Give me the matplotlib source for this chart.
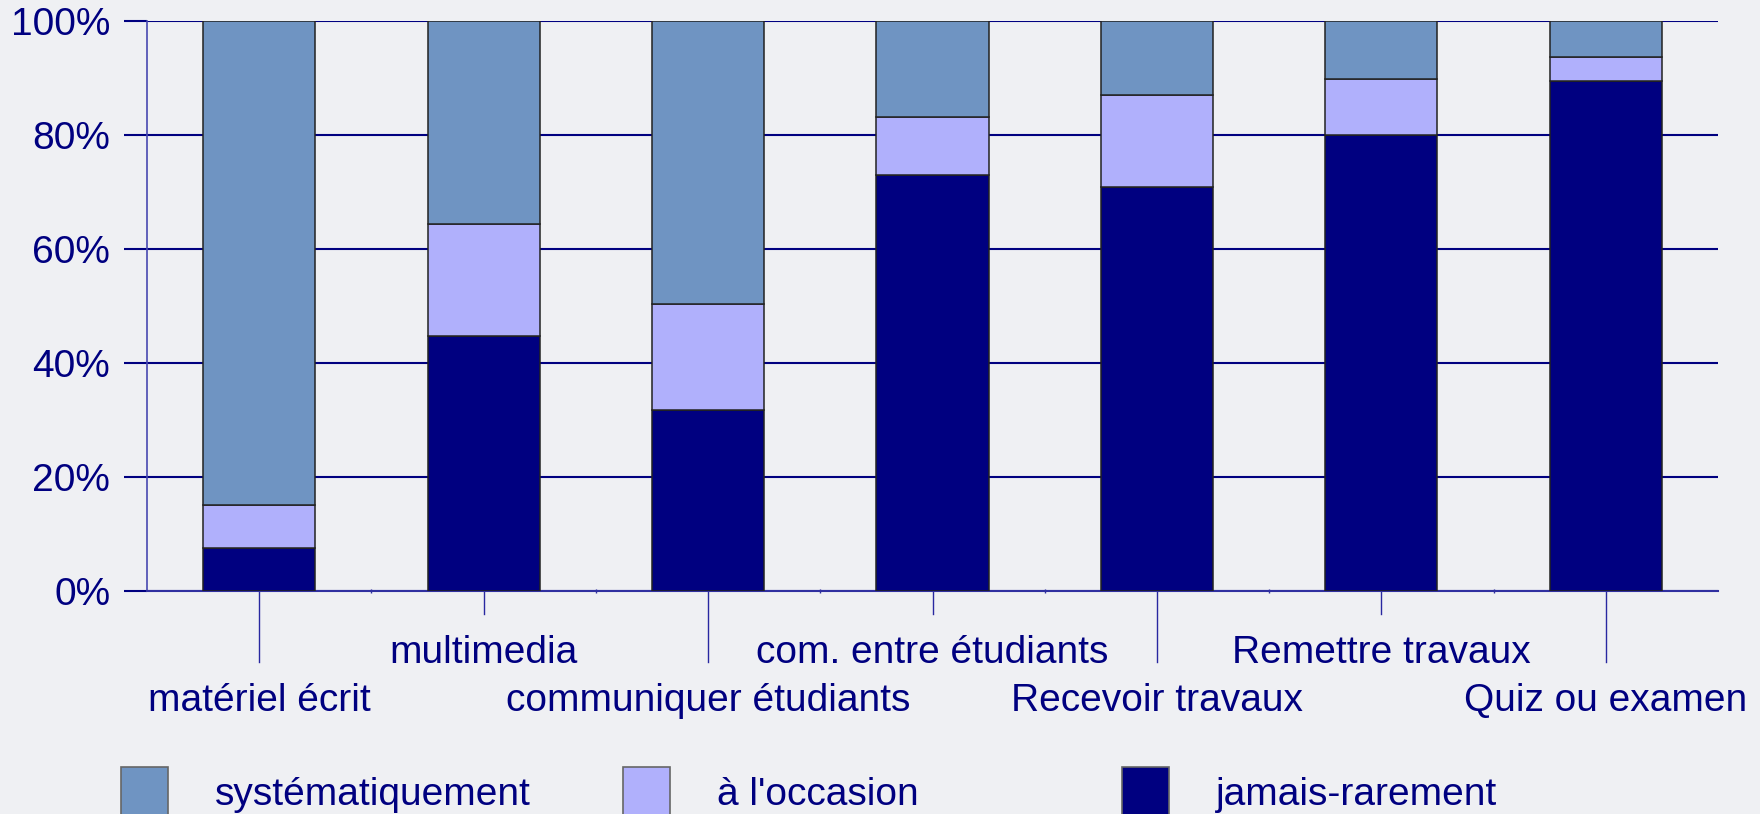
import matplotlib
matplotlib.use("Agg")
import matplotlib.pyplot as plt
import matplotlib.transforms as mtrans
from matplotlib.patches import Rectangle
import numpy as np

plt.rcParams["font.family"] = ["Liberation Sans", "DejaVu Sans"]

categories = [
    "matériel écrit",
    "multimedia",
    "communiquer étudiants",
    "com. entre étudiants",
    "Recevoir travaux",
    "Remettre travaux",
    "Quiz ou examen",
]
series_names = ["systématiquement", "à l'occasion", "jamais-rarement"]
jamais = [7.5, 44.7, 31.7, 72.9, 70.9, 80.0, 89.5]
occasion = [7.6, 19.6, 18.7, 10.2, 16.1, 9.9, 4.1]
systematique = [84.9, 35.7, 49.6, 16.9, 13.0, 10.1, 6.4]
y_ticks = [0, 20, 40, 60, 80, 100]

NAVY = "#000080"
COLORS = {"systématiquement": "#6f94c2", "à l'occasion": "#b0b0fc", "jamais-rarement": "#000080"}
FS = 28
W, H = 1760, 814

fig = plt.figure(figsize=(W / 100, H / 100), dpi=100, facecolor="#eff0f3")
ax = fig.add_axes([147 / W, 1 - 591 / H, (1718 - 147) / W, 570 / H])
ax.set_facecolor("none")

x = np.arange(len(categories))
ax.bar(x, jamais, 0.5, color=COLORS["jamais-rarement"], edgecolor="#222222", lw=1.1, zorder=3)
ax.bar(x, occasion, 0.5, bottom=jamais, color=COLORS["à l'occasion"],
       edgecolor="#222222", lw=1.1, zorder=3)
ax.bar(x, systematique, 0.5, bottom=np.add(jamais, occasion), color=COLORS["systématiquement"],
       edgecolor="#222222", lw=1.1, zorder=3)

ax.set_xlim(-0.5, len(categories) - 0.5)
ax.set_ylim(0, 100)
ax.set_yticks(y_ticks)
ax.set_yticklabels([f"{t}%" for t in y_ticks], fontsize=FS, color=NAVY)
ax.tick_params(axis="y", length=16.5, width=1.5, color=NAVY, pad=10)
ax.grid(axis="y", color=NAVY, lw=1.5, zorder=1)
ax.set_axisbelow(True)

# small marks at category boundaries
ax.set_xticks(np.arange(len(categories) - 1) + 0.5)
ax.set_xticklabels([])
ax.tick_params(axis="x", length=3, width=1, color="#3030a0", direction="inout")

for side in ["top", "right"]:
    ax.spines[side].set_visible(False)
ax.spines["left"].set_color("#4848b0")
ax.spines["left"].set_linewidth(1.2)
ax.spines["bottom"].set_color("#3030a0")
ax.spines["bottom"].set_linewidth(1.5)

# staggered category labels with leader lines
trans = mtrans.blended_transform_factory(ax.transData, ax.transAxes)
for i, label in enumerate(categories):
    low = i % 2 == 0
    line_end = -0.1246 if low else -0.0404
    text_y = -0.2105 if low else -0.126
    ax.plot([i, i], [0, line_end], color="#2828a0", lw=1, transform=trans, clip_on=False)
    ax.text(i, text_y, label, transform=trans, ha="center", va="baseline",
            fontsize=FS, color=NAVY)

# legend along the bottom edge
legend_x = [121, 623, 1122]
for name, lx in zip(series_names, legend_x):
    fig.add_artist(Rectangle((lx / W, -0.02), 47 / W, 0.02 + 47 / H,
                             transform=fig.transFigure, facecolor=COLORS[name],
                             edgecolor="#666666", lw=1.2))
    fig.text((lx + 94) / W, 9 / H, name, fontsize=FS, color=NAVY, va="baseline")

fig.savefig("out.png", dpi=100, facecolor=fig.get_facecolor())
